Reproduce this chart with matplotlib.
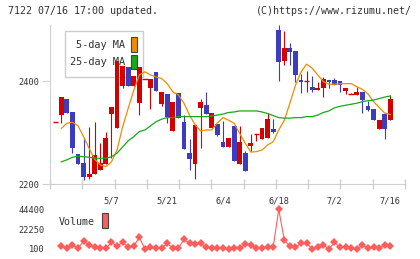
import numpy as np
import matplotlib
matplotlib.use('Agg')
import matplotlib.pyplot as plt
from matplotlib.patches import Rectangle

# daily candles, 4/17 .. 7/16 (index 60 = 7/16)
opens = [2320, 2334, 2365, 2339, 2258, 2240, 2213, 2219, 2227, 2239,
         2336, 2308, 2391, 2427, 2391, 2358, 2405, 2387, 2417, 2355,
         2375, 2303, 2376, 2320, 2260, 2239, 2348, 2353, 2309, 2316,
         2282, 2272, 2312, 2239, 2261, 2274, 2297, 2288, 2290, 2307,
         2499, 2439, 2465, 2458, 2402, 2400, 2389, 2382, 2387, 2402,
         2403, 2400, 2381, 2375, 2373, 2378, 2351, 2345, 2307, 2336,
         2325]
highs = [2320, 2369, 2365, 2339, 2258, 2289, 2310, 2321, 2280, 2301,
         2349, 2439, 2429, 2427, 2410, 2428, 2405, 2405, 2417, 2378,
         2375, 2359, 2376, 2335, 2287, 2314, 2365, 2379, 2338, 2316,
         2322, 2289, 2312, 2312, 2264, 2298, 2297, 2309, 2338, 2326,
         2509, 2497, 2474, 2458, 2413, 2420, 2410, 2399, 2408, 2402,
         2406, 2400, 2386, 2377, 2389, 2378, 2361, 2345, 2325, 2336,
         2373]
lows = [2320, 2319, 2338, 2261, 2239, 2208, 2209, 2219, 2227, 2239,
        2251, 2308, 2387, 2391, 2391, 2335, 2405, 2345, 2381, 2351,
        2319, 2303, 2329, 2268, 2227, 2209, 2269, 2336, 2309, 2293,
        2272, 2272, 2245, 2239, 2226, 2264, 2284, 2288, 2290, 2299,
        2400, 2431, 2431, 2399, 2377, 2379, 2379, 2382, 2369, 2386,
        2393, 2379, 2375, 2375, 2373, 2338, 2342, 2325, 2307, 2288,
        2325]
closes = [2320, 2369, 2338, 2270, 2239, 2213, 2219, 2256, 2240, 2289,
          2349, 2439, 2429, 2391, 2410, 2428, 2405, 2405, 2381, 2378,
          2331, 2359, 2329, 2268, 2249, 2314, 2360, 2336, 2338, 2295,
          2272, 2289, 2245, 2282, 2226, 2279, 2297, 2309, 2326, 2301,
          2437, 2465, 2457, 2411, 2399, 2400, 2382, 2386, 2404, 2398,
          2393, 2392, 2386, 2375, 2378, 2363, 2343, 2325, 2325, 2307,
          2365]
ma5 = [np.nan, 2308, 2318, 2320, 2313, 2292, 2269, 2248, 2237, 2234,
       2243, 2266, 2311, 2347, 2382, 2412, 2418, 2412, 2408, 2405,
       2395, 2379, 2373, 2357, 2334, 2315, 2303, 2305, 2305, 2319,
       2329, 2324, 2318, 2298, 2279, 2262, 2263, 2266, 2276, 2282,
       2305, 2324, 2357, 2392, 2418, 2433, 2425, 2412, 2399, 2394,
       2394, 2395, 2395, 2395, 2389, 2384, 2375, 2360, 2349, 2338,
       2335]
ma25 = [np.nan, 2243, 2247, 2252, 2254, 2253, 2252, 2250, 2250, 2250,
        2253, 2260, 2272, 2284, 2292, 2302, 2305, 2313, 2321, 2326,
        2329, 2329, 2331, 2331, 2331, 2331, 2331, 2331, 2332, 2334,
        2336, 2339, 2340, 2342, 2342, 2342, 2342, 2340, 2337, 2333,
        2329, 2328, 2328, 2329, 2329, 2331, 2331, 2334, 2339, 2342,
        2348, 2351, 2353, 2355, 2357, 2360, 2362, 2363, 2366, 2369,
        2371]
volume = [np.nan, 3420, 840, 4530, 840, 8960, 4530, 1950, 840, 840,
          7480, 3420, 7480, 1950, 3420, 13020, 100, 1950, 840, 840,
          6380, 840, 840, 10800, 6380, 5640, 6380, 1950, 840, 840,
          840, 100, 840, 840, 5640, 4530, 840, 840, 1950, 1950,
          44400, 9700, 3420, 1950, 6380, 6380, 100, 2680, 4530, 100,
          7480, 1950, 1950, 840, 100, 4530, 840, 1950, 840, 4530,
          3420]

date_pos = [10, 20, 30, 40, 50, 60]
date_labels = ['5/7', '5/21', '6/4', '6/18', '7/2', '7/16']
price_ticks = [2200, 2400]
vol_ticks = [100, 22250, 44400]

W, H = 420, 259
UP = '#d40000'
DOWN = '#3c3cbe'
GRAY = '#d0d0d0'
TXT = '#333333'
plt.rcParams['font.family'] = ['DejaVu Sans Mono']

def fx(px):
    return px / W

def fy(py):
    return 1 - py / H

fig = plt.figure(figsize=(W / 100, H / 100), dpi=100)
ax = fig.add_axes([fx(50), fy(184), fx(355), (184 - 25) / H])
axv = fig.add_axes([fx(50), fy(253), fx(355), 48 / H], sharex=ax)

x = np.arange(len(closes))
o = np.array(opens); c = np.array(closes)
hi = np.array(highs); lo = np.array(lows)
cols = np.where(c >= o, UP, DOWN)

ax.vlines(x, lo, hi, colors=cols, linewidth=0.8, zorder=2)
body = np.abs(c - o)
bottom = np.minimum(o, c)
ax.bar(x, body, bottom=bottom, width=0.86, color=cols, linewidth=0, zorder=2)
flat = body == 0
ax.hlines(o[flat], x[flat] - 0.5, x[flat] + 0.5, colors=cols[flat], linewidth=1.0, zorder=2)

ax.plot(x, ma5, color='#f08c00', linewidth=0.9, zorder=3)
ax.plot(x, ma25, color='#18a818', linewidth=0.9, zorder=3)

ax.set_xlim((50 - 55.7) / 5.576, (405 - 55.7) / 5.576)
ax.set_ylim(2200, 2509)

for s in ['top', 'right']:
    ax.spines[s].set_visible(False)
ax.spines['left'].set_color(GRAY)
ax.spines['bottom'].set_color(GRAY)
ax.set_yticks(price_ticks)
ax.set_yticklabels([str(v) for v in price_ticks])
ax.tick_params(axis='y', direction='out', length=6, color=GRAY, labelsize=6.2,
               labelcolor=TXT, pad=2)
ax.set_xticks(np.linspace(*ax.get_xlim(), 12), minor=True)
ax.tick_params(axis='x', which='minor', direction='inout', length=6.5, color=GRAY, width=1)
ax.set_xticks(date_pos)
ax.set_xticklabels(date_labels)
ax.tick_params(axis='x', which='major', length=0, labelsize=6.2, labelcolor=TXT, pad=9)

# legend box in the price panel (behind candles)
tf = fig.transFigure
ax.add_patch(Rectangle((fx(65), fy(77)), fx(78), 46 / H, transform=tf,
                       facecolor='white', edgecolor='#cccccc', linewidth=1, zorder=0.5))
ax.text(fx(125), fy(45), '5-day MA', transform=tf, ha='right', va='center',
        fontsize=7.4, color=TXT, zorder=0.6)
ax.text(fx(125), fy(62), '25-day MA', transform=tf, ha='right', va='center',
        fontsize=7.4, color=TXT, zorder=0.6)
ax.add_patch(Rectangle((fx(131), fy(52)), fx(6), 15 / H, transform=tf,
                       facecolor='#f08c00', edgecolor='#444444', linewidth=0.8, zorder=0.6))
ax.add_patch(Rectangle((fx(131), fy(69)), fx(6), 14 / H, transform=tf,
                       facecolor='#18a818', edgecolor='#444444', linewidth=0.8, zorder=0.6))

# volume panel
axv.plot(x, volume, color='#ff5c5c', linewidth=0.8, marker='D', markersize=4,
         markeredgewidth=0, clip_on=False)
per_px = (44400 - 100) / (249 - 209.3)
axv.set_ylim(100 - 4 * per_px, 44400 + 4.3 * per_px)
for s in axv.spines.values():
    s.set_visible(False)
axv.set_yticks(vol_ticks)
axv.set_yticklabels([str(v) for v in vol_ticks])
axv.tick_params(axis='y', length=0, labelsize=6.2, labelcolor=TXT, pad=4)
axv.tick_params(axis='x', which='both', length=0, labelbottom=False)
axv.text(fx(59), fy(222), 'Volume', transform=tf, ha='left', va='center',
         fontsize=7.2, color=TXT)
axv.add_patch(Rectangle((fx(102), fy(228)), fx(6), 15 / H, transform=tf,
                        facecolor='#ff5c5c', edgecolor='#444444', linewidth=0.8,
                        clip_on=False))

fig.text(fx(8), fy(11.5), '7122 07/16 17:00 updated.', ha='left', va='center',
         fontsize=7.2, color=TXT)
fig.text(fx(412), fy(11.5), '(C)https://www.rizumu.net/', ha='right', va='center',
         fontsize=7.2, color=TXT)

fig.savefig('out.png', dpi=100)
